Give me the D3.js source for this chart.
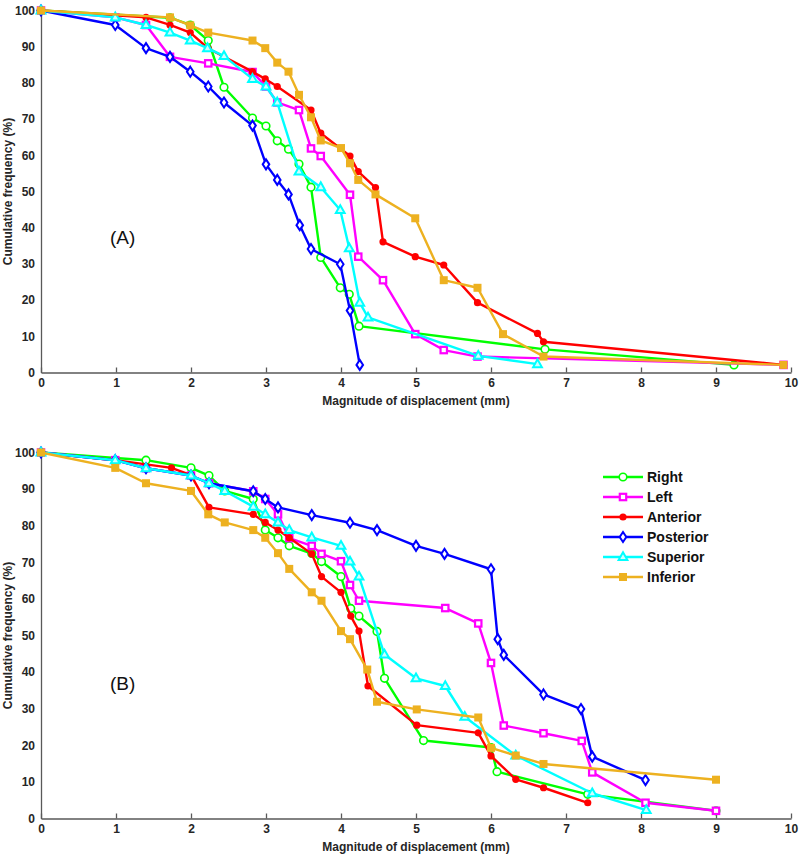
<!DOCTYPE html>
<html>
<head>
<meta charset="utf-8">
<script src="https://cdn.jsdelivr.net/npm/d3@7"></script>
<style>
  body { margin: 0; background: #fff; }
  svg { display: block; font-family: "Liberation Sans", Arial, sans-serif; }
  .axis path, .axis line { stroke: #595959; stroke-width: 1.3; }
  .axis text { font-size: 12px; font-weight: bold; fill: #262626; }
</style>
</head>
<body>
<div class="chart"></div>
<script>
var width = 800,
    height = 858;

// tick values
var xTicks = d3.range(0, 11);
var yTicks = d3.range(0, 101, 10);

// series names and colours
var names = ["Right", "Left", "Anterior", "Posterior", "Superior", "Inferior"];
var colors = ["#00ff00", "#ff00ff", "#ff0000", "#0000ff", "#00ffff", "#edb120"];

// panel (A): [displacement mm, cumulative %]
var rightA = [[0,100],[1.72,98],[1.99,96],[2.23,91.7],[2.44,78.8],[2.82,70.3],[3.0,68.1],[3.15,64.0],[3.30,61.7],[3.44,57.6],[3.60,51.2],[3.73,31.8],[3.99,23.4],[4.11,21.6],[4.24,12.8],[6.72,6.4],[9.24,2.1]];
var leftA = [[0,100],[0.99,98.1],[1.40,96.0],[1.72,87.2],[2.23,85.4],[2.82,83.0],[3.0,79.0],[3.15,74.6],[3.44,72.5],[3.60,61.9],[3.73,59.8],[4.12,49.1],[4.23,32.0],[4.56,25.5],[4.99,10.6],[5.37,6.2],[5.82,4.4],[9.9,2.1]];
var anteriorA = [[0,100],[1.40,98.1],[1.72,96.0],[1.99,93.9],[2.23,89.5],[2.82,83.1],[2.99,81.1],[3.15,79.0],[3.60,72.5],[3.73,66.1],[4.12,59.8],[4.23,55.5],[4.46,51.1],[4.56,36.1],[4.99,32.0],[5.37,29.7],[5.82,19.3],[6.62,10.8],[6.70,8.5],[9.9,2.1]];
var posteriorA = [[0,100],[0.99,96.0],[1.40,89.6],[1.72,87.2],[1.99,83.1],[2.23,79.0],[2.44,74.6],[2.82,68.2],[3.0,57.5],[3.15,53.2],[3.30,49.2],[3.45,40.7],[3.60,34.1],[3.99,29.9],[4.12,17.1],[4.25,2.1]];
var superiorA = [[0,100],[0.99,98.1],[1.40,96.0],[1.72,93.9],[1.99,91.7],[2.22,89.6],[2.44,87.4],[2.82,81.1],[3.0,79.0],[3.15,74.6],[3.44,55.5],[3.73,51.2],[3.99,44.9],[4.11,34.3],[4.25,19.3],[4.36,15.2],[5.83,4.6],[6.62,2.3]];
var inferiorA = [[0,100],[1.72,98.1],[1.99,95.9],[2.23,93.9],[2.82,91.7],[2.99,89.6],[3.15,85.6],[3.30,83.1],[3.44,76.7],[3.60,70.5],[3.73,64.1],[4.0,62.0],[4.12,57.8],[4.23,53.2],[4.46,49.2],[4.99,42.6],[5.37,25.5],[5.82,23.4],[6.16,10.6],[6.70,4.4],[9.9,2.1]];

// panel (B)
var rightB = [[0,100],[1.40,97.9],[2.0,95.8],[2.24,93.7],[2.45,89.5],[2.83,87.3],[2.99,78.8],[3.16,76.7],[3.31,74.5],[3.61,72.4],[3.74,70.2],[4.0,66.1],[4.13,57.4],[4.24,55.3],[4.48,51.1],[4.58,38.3],[5.10,21.3],[6.0,19.4],[6.08,12.8],[7.29,6.6],[9.0,2.1]];
var leftB = [[0,100],[0.99,97.9],[1.40,95.7],[2.0,93.7],[2.24,91.6],[2.83,89.4],[2.99,87.3],[3.16,83.1],[3.31,76.6],[3.61,74.5],[3.74,72.3],[4.0,70.3],[4.12,63.8],[4.24,59.5],[5.39,57.5],[5.83,53.3],[6.0,42.5],[6.17,25.4],[6.70,23.3],[7.21,21.2],[7.35,12.6],[8.06,4.3],[9.0,2.1]];
var anteriorB = [[0,100],[0.99,97.9],[1.74,95.8],[2.0,93.8],[2.24,85.0],[2.83,83.1],[2.99,80.9],[3.16,78.8],[3.31,76.7],[3.61,72.3],[3.74,66.1],[4.0,61.8],[4.13,55.3],[4.24,51.2],[4.36,36.2],[5.01,25.5],[5.83,23.4],[6.0,17.1],[6.33,10.7],[6.70,8.4],[7.29,4.3]];
var posteriorB = [[0,100],[0.99,97.9],[1.40,95.7],[2.0,93.7],[2.24,91.6],[2.83,89.4],[2.99,87.3],[3.16,85.0],[3.61,82.9],[4.12,80.8],[4.48,78.8],[5.0,74.5],[5.38,72.3],[6.0,68.1],[6.09,49.0],[6.17,44.7],[6.70,33.9],[7.20,29.9],[7.35,16.9],[8.06,10.5]];
var superiorB = [[0,100],[0.99,97.9],[1.40,95.7],[2.0,93.7],[2.24,91.6],[2.45,89.5],[2.83,85.2],[2.99,83.1],[3.16,80.9],[3.31,78.8],[3.61,76.8],[4.0,74.5],[4.12,70.2],[4.24,66.1],[4.58,44.8],[5.0,38.3],[5.39,36.2],[5.65,27.8],[6.33,17.2],[7.35,6.9],[8.07,2.3]];
var inferiorB = [[0,100],[0.99,95.8],[1.40,91.6],[2.0,89.5],[2.23,83.1],[2.45,80.9],[2.83,78.8],[2.99,76.7],[3.16,72.5],[3.31,68.2],[3.61,61.8],[3.74,59.5],[4.0,51.2],[4.12,49.0],[4.35,40.7],[4.48,31.9],[5.01,29.8],[5.83,27.6],[6.0,19.3],[6.33,17.2],[6.70,14.9],[9.0,10.6]];

var seriesA = [rightA, leftA, anteriorA, posteriorA, superiorA, inferiorA];
var seriesB = [rightB, leftB, anteriorB, posteriorB, superiorB, inferiorB];

var svg = d3.select(".chart").append("svg")
    .attr("width", width)
    .attr("height", height);

// marker drawing per series index
function marker(sel, i) {
  var c = colors[i];
  if (i == 0) {
    sel.append("circle").attr("r", 3.8).attr("fill", "#fff").attr("stroke", c).attr("stroke-width", 1.6);
  } else if (i == 1) {
    sel.append("rect").attr("x", -3.2).attr("y", -3.2).attr("width", 6.4).attr("height", 6.4)
      .attr("fill", "#fff").attr("stroke", c).attr("stroke-width", 2.2);
  } else if (i == 2) {
    sel.append("circle").attr("r", 3.6).attr("fill", c);
  } else if (i == 3) {
    sel.append("path").attr("d", "M0,-5L3.3,0L0,5L-3.3,0Z")
      .attr("fill", "#fff").attr("stroke", c).attr("stroke-width", 2);
  } else if (i == 4) {
    sel.append("path").attr("d", "M0,-4.8L4.4,3L-4.4,3Z")
      .attr("fill", "#cfffff").attr("stroke", c).attr("stroke-width", 2);
  } else {
    sel.append("rect").attr("x", -4).attr("y", -4).attr("width", 8).attr("height", 8).attr("fill", c);
  }
}

function drawPanel(series, top, bottom, tag, tagY) {
  var x = d3.scaleLinear().domain([0, 10]).range([41, 791]);
  var y = d3.scaleLinear().domain([0, 100]).range([bottom, top]);

  var g = svg.append("g");

  g.append("g")
      .attr("class", "axis")
      .attr("transform", "translate(0," + bottom + ")")
      .call(d3.axisBottom(x).tickValues(xTicks).tickSize(-5).tickSizeOuter(0).tickPadding(6));

  g.append("g")
      .attr("class", "axis")
      .attr("transform", "translate(41,0)")
      .call(d3.axisLeft(y).tickValues(yTicks).tickSize(0).tickPadding(6));

  g.append("text")
      .attr("x", 416).attr("y", bottom + 32)
      .attr("text-anchor", "middle")
      .style("font-size", "12px").style("font-weight", "bold").style("fill", "#262626")
      .text("Magnitude of displacement (mm)");

  g.append("text")
      .attr("transform", "translate(12," + ((top + bottom) / 2) + ") rotate(-90)")
      .attr("text-anchor", "middle")
      .style("font-size", "12px").style("font-weight", "bold").style("fill", "#262626")
      .text("Cumulative frequency (%)");

  g.append("text")
      .attr("x", 110).attr("y", tagY)
      .style("font-size", "19px").style("fill", "#111")
      .text(tag);

  var line = d3.line()
      .x(function(d) { return x(d[0]); })
      .y(function(d) { return y(d[1]); });

  series.forEach(function(s, i) {
    var sg = g.append("g");
    sg.append("path")
        .datum(s)
        .attr("fill", "none")
        .attr("stroke", colors[i])
        .attr("stroke-width", 2.4)
        .attr("stroke-linejoin", "round")
        .attr("d", line);
    sg.selectAll(".pt")
        .data(s)
        .enter().append("g")
        .attr("class", "pt")
        .attr("transform", function(d) { return "translate(" + x(d[0]) + "," + y(d[1]) + ")"; })
        .each(function() { marker(d3.select(this), i); });
  });
}

drawPanel(seriesA, 10.5, 372.5, "(A)", 244);
drawPanel(seriesB, 452.5, 818.5, "(B)", 690);

// legend in panel B
var legend = svg.append("g").attr("transform", "translate(603,477)");
names.forEach(function(n, i) {
  var row = legend.append("g").attr("transform", "translate(0," + (i * 20) + ")");
  row.append("line").attr("x1", 0).attr("x2", 40).attr("y1", 0).attr("y2", 0)
    .attr("stroke", colors[i]).attr("stroke-width", 2.4);
  var m = row.append("g").attr("transform", "translate(20,0)");
  marker(m, i);
  row.append("text").attr("x", 44).attr("y", 5)
    .style("font-size", "14px").style("font-weight", "bold").style("fill", "#111")
    .text(n);
});
</script>
</body>
</html>
